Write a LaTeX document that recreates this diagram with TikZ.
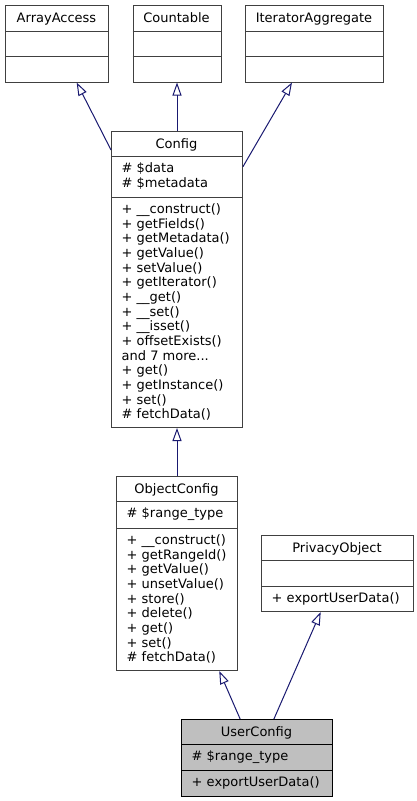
\documentclass[tikz,border=0pt]{standalone}
\usepackage{fontspec}
\setmainfont{DejaVu Sans}
\usetikzlibrary{arrows.meta}
\definecolor{edgeblue}{HTML}{191970}
\definecolor{boxgray}{HTML}{404040}
\definecolor{mainfill}{HTML}{BFBFBF}

\begin{document}
\begin{tikzpicture}[x=1pt, y=-1pt,  % 1 个单位 = 1 像素, y 轴向下
    font=\fontsize{13}{14.67}\selectfont,
    classbox/.style={draw=boxgray, line width=1pt, fill=white, inner sep=0pt, anchor=north west},
    divider/.style={draw=boxgray, line width=1pt},
    classname/.style={inner sep=0pt, anchor=base},
    members/.style={inner sep=0pt, anchor=north west, align=left},
    inherit/.style={draw=edgeblue, line width=1pt, -{Triangle[open, length=13pt, width=9pt]}}]

    \useasboundingbox (0,0) rectangle (417,801);

    % 绘制上方的三个接口
    \node[classbox, minimum width=103pt, minimum height=76.5pt] (arrayaccess) at (5,5) {};
    \node[classbox, minimum width=88pt, minimum height=76.5pt] (countable) at (132.5,5) {};
    \node[classbox, minimum width=138pt, minimum height=76.5pt] (iteratoraggregate) at (245,5) {};
    \draw[divider] (arrayaccess.west |- 0,31.5) -- (arrayaccess.east |- 0,31.5);
    \draw[divider] (arrayaccess.west |- 0,56.5) -- (arrayaccess.east |- 0,56.5);
    \draw[divider] (countable.west |- 0,31.5) -- (countable.east |- 0,31.5);
    \draw[divider] (countable.west |- 0,56.5) -- (countable.east |- 0,56.5);
    \draw[divider] (iteratoraggregate.west |- 0,31.5) -- (iteratoraggregate.east |- 0,31.5);
    \draw[divider] (iteratoraggregate.west |- 0,56.5) -- (iteratoraggregate.east |- 0,56.5);
    \node[classname] (arrayaccess-name) at (56.5,22) {ArrayAccess};
    \node[classname] (countable-name) at (176.5,22) {Countable};
    \node[classname] (iteratoraggregate-name) at (314,22) {IteratorAggregate};

    % 绘制 Config 类
    \node[classbox, minimum width=131pt, minimum height=296pt] (config) at (111,131) {};
    \draw[divider] (config.west |- 0,156.5) -- (config.east |- 0,156.5);
    \draw[divider] (config.west |- 0,197) -- (config.east |- 0,197);
    \node[classname] (config-name) at (176.5,148) {Config};
    \node[members] (config-attrs) at (121.5,162.5) {\strut\# \$data\\\# \$metadata};
    \node[members] (config-methods) at (121.5,203) {\strut+ \_\_construct()\\+ getFields()\\+ getMetadata()\\+ getValue()\\+ setValue()\\+ getIterator()\\+ \_\_get()\\+ \_\_set()\\+ \_\_isset()\\+ offsetExists()\\and 7 more...\\+ get()\\+ getInstance()\\+ set()\\\# fetchData()};

    % 绘制 ObjectConfig 类
    \node[classbox, minimum width=121pt, minimum height=194pt] (objectconfig) at (116,476) {};
    \draw[divider] (objectconfig.west |- 0,501.5) -- (objectconfig.east |- 0,501.5);
    \draw[divider] (objectconfig.west |- 0,528) -- (objectconfig.east |- 0,528);
    \node[classname] (objectconfig-name) at (176.5,493) {ObjectConfig};
    \node[members] (objectconfig-attrs) at (126.5,507.5) {\strut\# \$range\_type};
    \node[members] (objectconfig-methods) at (126.5,534) {\strut+ \_\_construct()\\+ getRangeId()\\+ getValue()\\+ unsetValue()\\+ store()\\+ delete()\\+ get()\\+ set()\\\# fetchData()};

    % 绘制 PrivacyObject 接口
    \node[classbox, minimum width=152pt, minimum height=76pt] (privacyobject) at (261,535) {};
    \draw[divider] (privacyobject.west |- 0,560.5) -- (privacyobject.east |- 0,560.5);
    \draw[divider] (privacyobject.west |- 0,586) -- (privacyobject.east |- 0,586);
    \node[classname] (privacyobject-name) at (337,552) {PrivacyObject};
    \node[members] (privacyobject-methods) at (271.5,592) {\strut+ exportUserData()};

    % 绘制 UserConfig 类 (灰色底)
    \node[classbox, draw=black, fill=mainfill, minimum width=151pt, minimum height=76.5pt] (userconfig) at (181,719) {};
    \draw[divider, draw=black] (userconfig.west |- 0,744.5) -- (userconfig.east |- 0,744.5);
    \draw[divider, draw=black] (userconfig.west |- 0,770) -- (userconfig.east |- 0,770);
    \node[classname] (userconfig-name) at (256.5,736) {UserConfig};
    \node[members] (userconfig-attrs) at (191.5,750.5) {\strut\# \$range\_type};
    \node[members] (userconfig-methods) at (191.5,776) {\strut+ exportUserData()};

    % 继承箭头
    \draw[inherit] (config) -- (arrayaccess);
    \draw[inherit] (config) -- (countable);
    \draw[inherit] (config) -- (iteratoraggregate);
    \draw[inherit] (objectconfig) -- (config);
    \draw[inherit] (userconfig) -- (objectconfig);
    \draw[inherit] (userconfig) -- (privacyobject);

\end{tikzpicture}
\end{document}
